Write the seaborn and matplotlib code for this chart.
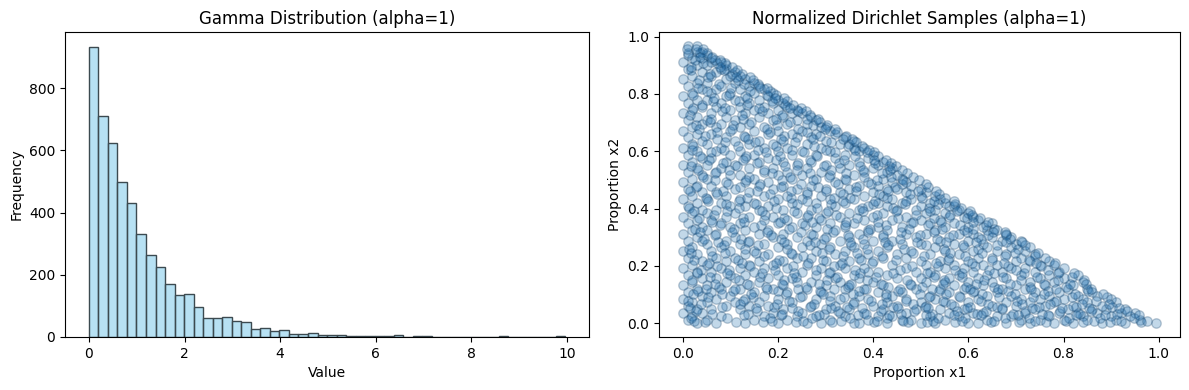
import pandas as pd
import matplotlib
matplotlib.use("Agg")
import matplotlib.pyplot as plt
import seaborn as sns

# histogram: counts read per bin
bin_width = 0.1992
counts = [934, 709, 625, 499, 431, 331, 263, 225, 170, 134, 138, 96, 60, 60, 63, 51, 47, 25, 28, 18,
          22, 10, 10, 13, 6, 6, 6, 3, 3, 3, 3, 3, 6, 1, 3, 3, 1, 0, 0, 0,
          0, 0, 0, 3, 0, 0, 0, 0, 0, 3]

# scatter, one x list per row of y
row_y = [0.0, 0.012, 0.024, 0.036, 0.048, 0.06, 0.072, 0.084, 0.096, 0.108, 0.12, 0.132, 0.144, 0.156, 0.168, 0.18,
         0.192, 0.204, 0.216, 0.228, 0.24, 0.252, 0.264, 0.276, 0.288, 0.3, 0.312, 0.324, 0.336, 0.348, 0.36, 0.372,
         0.384, 0.396, 0.408, 0.42, 0.432, 0.444, 0.456, 0.468, 0.48, 0.492, 0.504, 0.516, 0.528, 0.54, 0.552, 0.564,
         0.576, 0.588, 0.6, 0.612, 0.624, 0.636, 0.648, 0.66, 0.672, 0.684, 0.696, 0.708, 0.72, 0.732, 0.744, 0.756,
         0.768, 0.78, 0.792, 0.804, 0.816, 0.828, 0.84, 0.852, 0.864, 0.876, 0.888, 0.9, 0.912, 0.924, 0.936, 0.948, 0.968]
row_x = [
    [0.03, 0.07, 0.13, 0.2, 0.26, 0.29, 0.36, 0.37, 0.43, 0.5, 0.53, 0.6, 0.62, 0.68, 0.73, 0.78, 0.82, 0.88, 0.93, 0.995],
    [0.01, 0.05, 0.15, 0.22, 0.31, 0.39, 0.46, 0.48, 0.55, 0.64, 0.71, 0.75, 0.8, 0.85, 0.91, 0.96],
    [0.02, 0.08, 0.17, 0.24, 0.28, 0.34, 0.41, 0.44, 0.52, 0.58, 0.66, 0.69, 0.77, 0.84, 0.9, 0.94],
    [0.0, 0.04, 0.19, 0.25, 0.33, 0.38, 0.47, 0.56, 0.61, 0.63, 0.72, 0.79, 0.83, 0.87, 0.92, 0.95],
    [0.03, 0.06, 0.12, 0.21, 0.3, 0.35, 0.42, 0.49, 0.54, 0.59, 0.67, 0.74, 0.81, 0.86, 0.89, 0.93],
    [0.01, 0.09, 0.14, 0.18, 0.27, 0.32, 0.4, 0.45, 0.51, 0.57, 0.65, 0.7, 0.76, 0.82, 0.88],
    [0.02, 0.05, 0.11, 0.16, 0.23, 0.36, 0.43, 0.5, 0.55, 0.6, 0.68, 0.73, 0.78, 0.85, 0.91],
    [0.0, 0.07, 0.13, 0.2, 0.28, 0.33, 0.39, 0.47, 0.53, 0.62, 0.71, 0.75, 0.8, 0.84, 0.9],
    [0.04, 0.1, 0.17, 0.25, 0.31, 0.37, 0.44, 0.52, 0.58, 0.64, 0.69, 0.77, 0.83, 0.87],
    [0.01, 0.06, 0.15, 0.22, 0.29, 0.41, 0.46, 0.56, 0.61, 0.66, 0.74, 0.79, 0.86],
    [0.03, 0.08, 0.12, 0.19, 0.26, 0.34, 0.38, 0.49, 0.54, 0.59, 0.67, 0.72, 0.81, 0.85],
    [0.0, 0.05, 0.14, 0.21, 0.3, 0.35, 0.42, 0.48, 0.57, 0.63, 0.7, 0.76, 0.82],
    [0.02, 0.09, 0.16, 0.24, 0.27, 0.33, 0.4, 0.51, 0.55, 0.6, 0.65, 0.73, 0.78, 0.84],
    [0.04, 0.07, 0.11, 0.18, 0.23, 0.32, 0.37, 0.45, 0.5, 0.56, 0.62, 0.68, 0.75, 0.8],
    [0.01, 0.1, 0.13, 0.2, 0.28, 0.36, 0.43, 0.53, 0.58, 0.64, 0.71, 0.77, 0.83],
    [0.03, 0.06, 0.15, 0.25, 0.31, 0.39, 0.41, 0.49, 0.52, 0.61, 0.67, 0.74, 0.79],
    [0.0, 0.08, 0.12, 0.17, 0.22, 0.29, 0.34, 0.38, 0.47, 0.55, 0.59, 0.69, 0.72, 0.8],
    [0.02, 0.05, 0.14, 0.19, 0.26, 0.33, 0.44, 0.51, 0.57, 0.63, 0.66, 0.75, 0.78],
    [0.04, 0.09, 0.16, 0.21, 0.3, 0.35, 0.4, 0.5, 0.54, 0.6, 0.7, 0.73, 0.77],
    [0.01, 0.07, 0.11, 0.24, 0.27, 0.37, 0.42, 0.47, 0.56, 0.62, 0.65, 0.71, 0.76],
    [0.03, 0.13, 0.18, 0.23, 0.32, 0.39, 0.45, 0.52, 0.58, 0.68, 0.74],
    [0.0, 0.06, 0.1, 0.15, 0.28, 0.34, 0.41, 0.48, 0.55, 0.61, 0.66, 0.72],
    [0.02, 0.08, 0.2, 0.25, 0.31, 0.36, 0.43, 0.53, 0.59, 0.64, 0.69, 0.73],
    [0.05, 0.12, 0.17, 0.22, 0.29, 0.38, 0.46, 0.5, 0.57, 0.63, 0.7],
    [0.01, 0.04, 0.09, 0.14, 0.26, 0.33, 0.4, 0.44, 0.54, 0.6, 0.67, 0.71],
    [0.03, 0.11, 0.19, 0.24, 0.3, 0.35, 0.42, 0.49, 0.56, 0.62, 0.65, 0.69],
    [0.0, 0.07, 0.16, 0.21, 0.27, 0.37, 0.47, 0.51, 0.58, 0.61, 0.68],
    [0.02, 0.05, 0.13, 0.18, 0.32, 0.39, 0.43, 0.53, 0.59, 0.64, 0.66],
    [0.04, 0.1, 0.15, 0.23, 0.28, 0.34, 0.41, 0.46, 0.55, 0.6, 0.63],
    [0.01, 0.08, 0.12, 0.2, 0.25, 0.31, 0.36, 0.48, 0.52, 0.57, 0.65],
    [0.03, 0.06, 0.17, 0.22, 0.29, 0.38, 0.44, 0.5, 0.54, 0.62],
    [0.0, 0.09, 0.14, 0.19, 0.26, 0.33, 0.4, 0.47, 0.56, 0.59, 0.61],
    [0.02, 0.05, 0.11, 0.24, 0.3, 0.35, 0.42, 0.51, 0.55, 0.6],
    [0.04, 0.07, 0.16, 0.21, 0.27, 0.37, 0.45, 0.49, 0.53, 0.58],
    [0.01, 0.1, 0.13, 0.18, 0.32, 0.39, 0.43, 0.5, 0.56, 0.57],
    [0.03, 0.08, 0.15, 0.23, 0.28, 0.34, 0.41, 0.46, 0.52, 0.55],
    [0.0, 0.05, 0.12, 0.2, 0.25, 0.31, 0.36, 0.44, 0.48, 0.54],
    [0.02, 0.09, 0.17, 0.22, 0.29, 0.38, 0.42, 0.5, 0.53],
    [0.04, 0.07, 0.14, 0.26, 0.33, 0.4, 0.47, 0.51],
    [0.01, 0.11, 0.19, 0.24, 0.3, 0.35, 0.43, 0.45, 0.5],
    [0.03, 0.06, 0.16, 0.21, 0.27, 0.37, 0.41, 0.48],
    [0.0, 0.09, 0.13, 0.18, 0.32, 0.39, 0.44, 0.47],
    [0.02, 0.05, 0.15, 0.23, 0.28, 0.34, 0.42, 0.46],
    [0.04, 0.1, 0.12, 0.2, 0.25, 0.31, 0.36, 0.45],
    [0.01, 0.07, 0.17, 0.22, 0.29, 0.38, 0.43],
    [0.03, 0.08, 0.14, 0.19, 0.26, 0.33, 0.4, 0.44],
    [0.0, 0.05, 0.11, 0.24, 0.3, 0.35, 0.41],
    [0.02, 0.09, 0.16, 0.21, 0.27, 0.37, 0.42],
    [0.04, 0.06, 0.13, 0.18, 0.32, 0.39],
    [0.01, 0.1, 0.15, 0.23, 0.28, 0.34, 0.4],
    [0.03, 0.07, 0.12, 0.2, 0.25, 0.31, 0.37],
    [0.0, 0.08, 0.17, 0.22, 0.29, 0.36, 0.38],
    [0.02, 0.05, 0.14, 0.19, 0.26, 0.33, 0.35],
    [0.04, 0.11, 0.16, 0.21, 0.3, 0.36],
    [0.01, 0.09, 0.13, 0.24, 0.27, 0.34],
    [0.03, 0.06, 0.18, 0.23, 0.28, 0.32],
    [0.0, 0.1, 0.15, 0.2, 0.25, 0.31],
    [0.02, 0.07, 0.12, 0.17, 0.29, 0.3],
    [0.04, 0.08, 0.14, 0.22, 0.26],
    [0.01, 0.05, 0.11, 0.19, 0.24, 0.28],
    [0.03, 0.09, 0.16, 0.21, 0.27],
    [0.0, 0.06, 0.13, 0.18, 0.23, 0.25],
    [0.02, 0.1, 0.15, 0.2, 0.24],
    [0.04, 0.07, 0.12, 0.17, 0.22],
    [0.01, 0.08, 0.14, 0.19, 0.21],
    [0.03, 0.05, 0.11, 0.16, 0.2],
    [0.0, 0.09, 0.13, 0.18],
    [0.02, 0.06, 0.1, 0.15, 0.19],
    [0.04, 0.07, 0.12, 0.17],
    [0.01, 0.08, 0.14, 0.16],
    [0.03, 0.05, 0.11, 0.15],
    [0.0, 0.09, 0.13],
    [0.02, 0.06, 0.1, 0.12],
    [0.04, 0.07, 0.11],
    [0.01, 0.08, 0.09],
    [0.03, 0.05, 0.09],
    [0.0, 0.06, 0.08],
    [0.02, 0.04, 0.06],
    [0.01, 0.05],
    [0.03, 0.04],
    [0.01, 0.03],
]

# second pass over the same triangle, rows in between the first ones
row_y2 = [0.004, 0.017, 0.031, 0.043, 0.056, 0.078, 0.091, 0.113, 0.127, 0.149, 0.162, 0.185, 0.199, 0.221, 0.236, 0.258,
          0.271, 0.293, 0.308, 0.329, 0.344, 0.366, 0.379, 0.402, 0.417, 0.438, 0.452, 0.474, 0.487, 0.511, 0.523, 0.547,
          0.559, 0.583, 0.596, 0.618, 0.631, 0.654, 0.667, 0.691, 0.703, 0.727, 0.739, 0.763, 0.776, 0.798, 0.812, 0.835,
          0.848, 0.871, 0.883, 0.907, 0.919, 0.943]
row_x2 = [
    [0.046, 0.112, 0.168, 0.237, 0.314, 0.402, 0.474, 0.513, 0.571, 0.648, 0.706, 0.763, 0.841, 0.897, 0.962],
    [0.017, 0.094, 0.183, 0.271, 0.352, 0.429, 0.537, 0.593, 0.676, 0.727, 0.812, 0.876, 0.948],
    [0.061, 0.138, 0.209, 0.297, 0.384, 0.458, 0.524, 0.618, 0.693, 0.754, 0.835, 0.913],
    [0.028, 0.156, 0.243, 0.326, 0.417, 0.486, 0.577, 0.637, 0.718, 0.793, 0.858, 0.934],
    [0.083, 0.192, 0.268, 0.346, 0.441, 0.509, 0.604, 0.661, 0.749, 0.826, 0.902],
    [0.012, 0.127, 0.224, 0.309, 0.395, 0.468, 0.546, 0.627, 0.702, 0.785, 0.869],
    [0.054, 0.148, 0.247, 0.338, 0.426, 0.518, 0.583, 0.664, 0.736, 0.817, 0.892],
    [0.033, 0.106, 0.201, 0.288, 0.371, 0.453, 0.539, 0.612, 0.683, 0.768, 0.852],
    [0.076, 0.174, 0.259, 0.348, 0.431, 0.503, 0.596, 0.654, 0.729, 0.806],
    [0.019, 0.119, 0.213, 0.302, 0.387, 0.472, 0.548, 0.633, 0.711, 0.789, 0.843],
    [0.058, 0.163, 0.238, 0.324, 0.406, 0.528, 0.586, 0.672, 0.744, 0.818],
    [0.039, 0.098, 0.194, 0.279, 0.361, 0.456, 0.571, 0.643, 0.701, 0.768],
    [0.071, 0.142, 0.231, 0.317, 0.482, 0.537, 0.613, 0.684, 0.752],
    [0.023, 0.116, 0.203, 0.294, 0.374, 0.449, 0.558, 0.649, 0.728],
    [0.062, 0.171, 0.252, 0.336, 0.418, 0.506, 0.593, 0.677, 0.739],
    [0.014, 0.131, 0.219, 0.307, 0.388, 0.464, 0.549, 0.621, 0.704],
    [0.087, 0.159, 0.268, 0.353, 0.431, 0.512, 0.588, 0.661, 0.718],
    [0.044, 0.123, 0.207, 0.296, 0.379, 0.457, 0.534, 0.626, 0.688],
    [0.068, 0.186, 0.274, 0.347, 0.421, 0.498, 0.567, 0.641, 0.679],
    [0.026, 0.107, 0.223, 0.303, 0.394, 0.476, 0.544, 0.609, 0.654],
    [0.079, 0.164, 0.256, 0.341, 0.428, 0.516, 0.583, 0.638],
    [0.035, 0.127, 0.212, 0.286, 0.367, 0.453, 0.527, 0.597, 0.625],
    [0.066, 0.173, 0.264, 0.322, 0.408, 0.489, 0.561, 0.608],
    [0.013, 0.118, 0.196, 0.283, 0.376, 0.442, 0.518, 0.584],
    [0.091, 0.154, 0.241, 0.312, 0.399, 0.467, 0.536, 0.572],
    [0.048, 0.136, 0.228, 0.318, 0.352, 0.429, 0.503, 0.551],
    [0.073, 0.184, 0.261, 0.336, 0.413, 0.478, 0.538],
    [0.027, 0.121, 0.207, 0.284, 0.363, 0.446, 0.515],
    [0.096, 0.162, 0.248, 0.327, 0.396, 0.461, 0.512],
    [0.042, 0.139, 0.226, 0.307, 0.381, 0.437, 0.484],
    [0.067, 0.188, 0.267, 0.343, 0.418, 0.471],
    [0.018, 0.114, 0.215, 0.296, 0.372, 0.433, 0.448],
    [0.084, 0.157, 0.243, 0.329, 0.404, 0.437],
    [0.037, 0.132, 0.205, 0.283, 0.361, 0.411],
    [0.059, 0.174, 0.254, 0.319, 0.387, 0.402],
    [0.022, 0.117, 0.196, 0.276, 0.348, 0.377],
    [0.089, 0.151, 0.235, 0.312, 0.363],
    [0.046, 0.128, 0.213, 0.289, 0.342],
    [0.071, 0.184, 0.262, 0.325],
    [0.028, 0.106, 0.197, 0.274, 0.304],
    [0.058, 0.143, 0.226, 0.288],
    [0.016, 0.124, 0.208, 0.268],
    [0.083, 0.167, 0.243, 0.258],
    [0.041, 0.136, 0.214, 0.231],
    [0.064, 0.119, 0.187, 0.218],
    [0.021, 0.098, 0.176, 0.196],
    [0.052, 0.141, 0.183],
    [0.077, 0.128, 0.159],
    [0.034, 0.116, 0.148],
    [0.058, 0.103, 0.124],
    [0.017, 0.086, 0.113],
    [0.043, 0.073, 0.088],
    [0.026, 0.068, 0.079],
    [0.012, 0.037, 0.051],
]

# third pass, mostly filling what the first two left open
row_y3 = [0.009, 0.027, 0.052, 0.067, 0.103, 0.118, 0.138, 0.174, 0.21, 0.245, 0.282, 0.318, 0.353, 0.39, 0.426, 0.462,
          0.498, 0.534, 0.57, 0.606, 0.642, 0.678, 0.714, 0.75, 0.786, 0.822, 0.858, 0.894, 0.93, 0.956]
row_x3 = [
    [0.024, 0.188, 0.253, 0.332, 0.409, 0.463, 0.526, 0.587, 0.654, 0.739, 0.806, 0.864, 0.921, 0.976],
    [0.128, 0.206, 0.287, 0.368, 0.433, 0.512, 0.569, 0.626, 0.704, 0.768, 0.827, 0.886, 0.958],
    [0.016, 0.153, 0.229, 0.311, 0.376, 0.452, 0.516, 0.598, 0.671, 0.733, 0.796, 0.853, 0.917],
    [0.038, 0.121, 0.198, 0.276, 0.358, 0.418, 0.484, 0.563, 0.641, 0.713, 0.772, 0.838, 0.896],
    [0.022, 0.082, 0.143, 0.216, 0.294, 0.357, 0.428, 0.498, 0.552, 0.628, 0.697, 0.758, 0.824, 0.883],
    [0.048, 0.109, 0.178, 0.243, 0.318, 0.384, 0.457, 0.523, 0.604, 0.663, 0.732, 0.784, 0.857],
    [0.067, 0.136, 0.209, 0.286, 0.354, 0.417, 0.478, 0.546, 0.617, 0.687, 0.758, 0.813, 0.848],
    [0.029, 0.093, 0.167, 0.233, 0.307, 0.372, 0.441, 0.514, 0.586, 0.653, 0.716, 0.788, 0.821],
    [0.056, 0.124, 0.196, 0.263, 0.334, 0.398, 0.533, 0.608, 0.674, 0.742, 0.783],
    [0.017, 0.089, 0.154, 0.228, 0.293, 0.366, 0.483, 0.562, 0.629, 0.698, 0.746],
    [0.074, 0.137, 0.212, 0.278, 0.351, 0.424, 0.493, 0.553, 0.616, 0.679, 0.712],
    [0.036, 0.103, 0.176, 0.249, 0.316, 0.389, 0.459, 0.528, 0.598, 0.651, 0.676],
    [0.061, 0.128, 0.204, 0.271, 0.343, 0.411, 0.484, 0.543, 0.609, 0.642],
    [0.024, 0.094, 0.166, 0.234, 0.306, 0.378, 0.447, 0.519, 0.577, 0.604],
    [0.053, 0.119, 0.191, 0.262, 0.337, 0.404, 0.468, 0.527, 0.569],
    [0.015, 0.084, 0.157, 0.227, 0.301, 0.364, 0.431, 0.494, 0.532],
    [0.067, 0.133, 0.208, 0.274, 0.342, 0.409, 0.463, 0.497],
    [0.031, 0.098, 0.171, 0.241, 0.312, 0.378, 0.436, 0.461],
    [0.056, 0.126, 0.196, 0.268, 0.339, 0.402, 0.426],
    [0.019, 0.087, 0.159, 0.229, 0.301, 0.361, 0.391],
    [0.072, 0.138, 0.207, 0.274, 0.336, 0.356],
    [0.034, 0.104, 0.176, 0.243, 0.298, 0.319],
    [0.059, 0.127, 0.196, 0.261, 0.284],
    [0.022, 0.089, 0.161, 0.226, 0.248],
    [0.066, 0.134, 0.193, 0.213],
    [0.031, 0.101, 0.163, 0.177],
    [0.054, 0.112, 0.141],
    [0.018, 0.078, 0.104],
    [0.036, 0.062],
    [0.008, 0.027, 0.042],
]

bin_centers = [bin_width * (i + 0.5) for i in range(len(counts))]

xs = []
ys = []
for rows_y, rows_x in [(row_y, row_x), (row_y2, row_x2), (row_y3, row_x3)]:
    for y, row in zip(rows_y, rows_x):
        for x in row:
            xs.append(x)
            ys.append(y)
points = pd.DataFrame({"x1": xs, "x2": ys})

fig, axes = plt.subplots(1, 2, figsize=(11.89, 3.9), dpi=100)

sns.histplot(x=bin_centers, weights=counts, bins=len(counts), binrange=(0, bin_width * len(counts)),
             color="skyblue", edgecolor="#3c4a50", alpha=0.6, linewidth=1, ax=axes[0])
axes[0].set_title("Gamma Distribution (alpha=1)")
axes[0].set_xlabel("Value")
axes[0].set_ylabel("Frequency")

sns.scatterplot(data=points, x="x1", y="x2", s=46, color="#1f6fb0", edgecolor="#123f66",
                alpha=0.27, linewidth=1, ax=axes[1])
axes[1].set_title("Normalized Dirichlet Samples (alpha=1)")
axes[1].set_xlabel("Proportion x1")
axes[1].set_ylabel("Proportion x2")

axes[0].set_position([0.0547, 0.136, 0.4407, 0.782])
axes[1].set_position([0.5543, 0.136, 0.4382, 0.782])
fig.savefig("out.png", dpi=100)
